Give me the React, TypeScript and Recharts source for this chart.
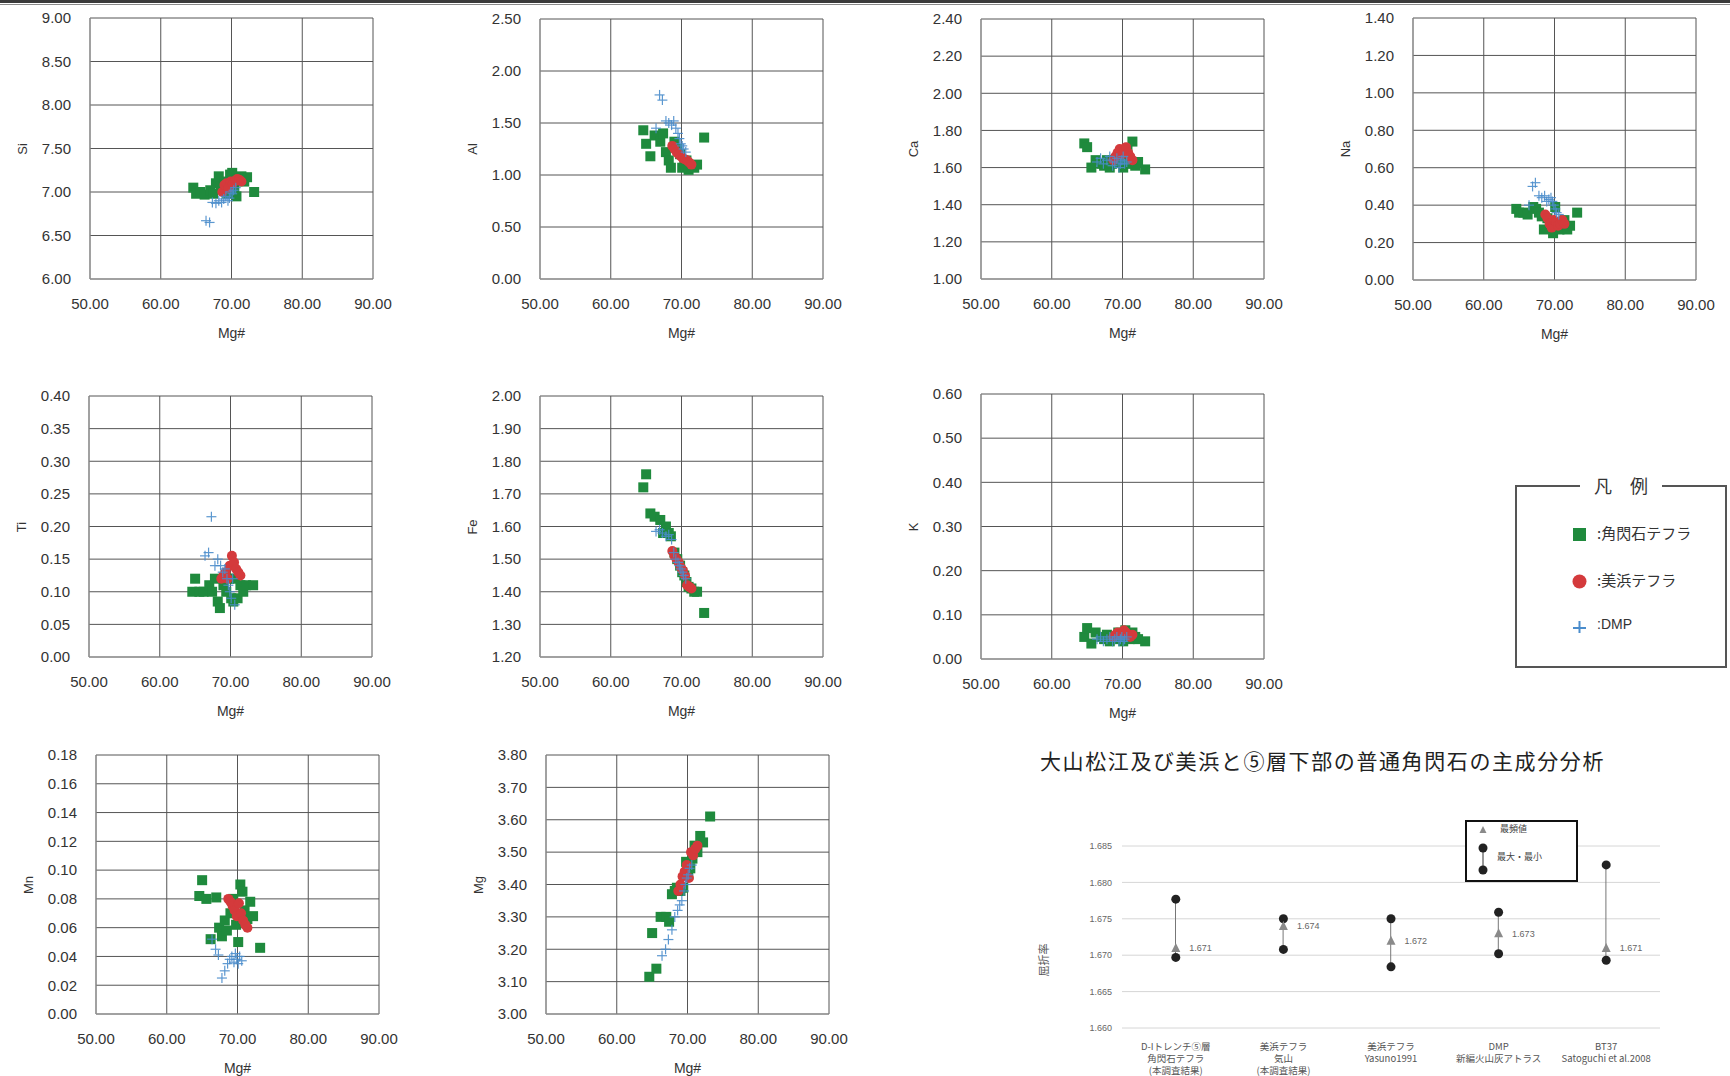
import React from "react";
import {
  Bar,
  CartesianGrid,
  ComposedChart,
  LabelList,
  Scatter,
  ScatterChart,
  XAxis,
  YAxis,
} from "recharts";

// Mg# of each analysed grain, shared by every element panel
const greenMg = [64.6, 65.0, 65.6, 66.2, 67.0, 67.4, 67.8, 68.2, 68.5, 69.0, 69.4, 69.8, 70.1, 70.4, 70.7, 71.0, 71.4, 71.8, 72.2, 73.2];
const redMg = [68.7, 69.0, 69.3, 69.6, 69.9, 70.2, 70.5, 70.8, 71.1, 71.4];
const blueMg = [66.4, 66.9, 67.3, 67.8, 68.2, 68.6, 68.9, 69.2, 69.5, 69.7, 69.9, 70.1, 70.3, 70.6];

// element values (green = 角閃石テフラ, red = 美浜テフラ, blue = DMP)
const siGreen = [7.05, 6.98, 7.0, 6.97, 7.02, 6.98, 7.1, 7.18, 7.05, 7.12, 6.98, 7.2, 7.22, 7.05, 6.95, 7.15, 7.18, 7.12, 7.17, 7.0];
const siRed = [7.0, 7.08, 7.1, 7.05, 7.12, 7.1, 7.13, 7.15, 7.14, 7.12];
const siBlue = [6.67, 6.65, 6.88, 6.87, 6.9, 6.88, 6.92, 6.95, 6.9, 6.93, 7.0, 6.98, 7.02, 7.05];

const alGreen = [1.43, 1.3, 1.18, 1.38, 1.32, 1.4, 1.22, 1.14, 1.07, 1.32, 1.25, 1.2, 1.07, 1.12, 1.14, 1.05, 1.09, 1.07, 1.1, 1.36];
const alRed = [1.28, 1.25, 1.22, 1.2, 1.18, 1.16, 1.15, 1.14, 1.12, 1.1];
const alBlue = [1.45, 1.77, 1.72, 1.52, 1.5, 1.48, 1.52, 1.45, 1.4, 1.35, 1.3, 1.28, 1.25, 1.22];

const caGreen = [1.73, 1.71, 1.6, 1.64, 1.62, 1.61, 1.64, 1.6, 1.62, 1.64, 1.66, 1.63, 1.6, 1.67, 1.7, 1.62, 1.74, 1.61, 1.63, 1.59];
const caRed = [1.64, 1.66, 1.68, 1.7, 1.67, 1.69, 1.71, 1.68, 1.66, 1.64];
const caBlue = [1.63, 1.65, 1.62, 1.64, 1.66, 1.61, 1.63, 1.65, 1.6, 1.62, 1.64, 1.66, 1.62, 1.63];

const naGreen = [0.38, 0.36, 0.36, 0.35, 0.39, 0.38, 0.36, 0.34, 0.27, 0.33, 0.3, 0.25, 0.39, 0.28, 0.27, 0.3, 0.32, 0.27, 0.29, 0.36];
const naRed = [0.35, 0.33, 0.3, 0.28, 0.32, 0.31, 0.29, 0.3, 0.32, 0.3];
const naBlue = [0.4, 0.5, 0.52, 0.45, 0.44, 0.45, 0.42, 0.43, 0.44, 0.42, 0.4, 0.38, 0.36, 0.35];

const tiGreen = [0.1, 0.12, 0.1, 0.1, 0.11, 0.1, 0.12, 0.085, 0.075, 0.11, 0.1, 0.12, 0.09, 0.085, 0.12, 0.09, 0.11, 0.1, 0.11, 0.11];
const tiRed = [0.12, 0.125, 0.13, 0.12, 0.14, 0.155, 0.145, 0.135, 0.13, 0.125];
const tiBlue = [0.155, 0.16, 0.215, 0.14, 0.15, 0.14, 0.13, 0.135, 0.12, 0.11, 0.1, 0.09, 0.12, 0.08];

const feGreen = [1.72, 1.76, 1.64, 1.63, 1.62, 1.58, 1.6, 1.58, 1.57, 1.52, 1.5, 1.48, 1.46, 1.45, 1.43, 1.415, 1.41, 1.4, 1.4, 1.335];
const feRed = [1.525, 1.51, 1.5, 1.49, 1.475, 1.465, 1.45, 1.42, 1.415, 1.41];
const feBlue = [1.585, 1.59, 1.58, 1.57, 1.575, 1.56, 1.52, 1.5, 1.49, 1.48, 1.47, 1.46, 1.45, 1.44];

const kGreen = [0.05, 0.07, 0.035, 0.06, 0.05, 0.045, 0.055, 0.04, 0.05, 0.045, 0.06, 0.05, 0.04, 0.065, 0.055, 0.045, 0.06, 0.05, 0.045, 0.04];
const kRed = [0.05, 0.055, 0.06, 0.055, 0.06, 0.065, 0.06, 0.055, 0.05, 0.055];
const kBlue = [0.045, 0.05, 0.04, 0.045, 0.05, 0.04, 0.045, 0.05, 0.04, 0.045, 0.05, 0.04, 0.045, 0.05];

const mnGreen = [0.082, 0.093, 0.08, 0.052, 0.081, 0.06, 0.054, 0.065, 0.058, 0.07, 0.08, 0.062, 0.05, 0.09, 0.085, 0.072, 0.066, 0.078, 0.068, 0.046];
const mnRed = [0.08, 0.078, 0.075, 0.072, 0.068, 0.077, 0.07, 0.065, 0.062, 0.06];
const mnBlue = [0.052, 0.045, 0.041, 0.025, 0.03, 0.035, 0.038, 0.04, 0.036, 0.042, 0.038, 0.035, 0.04, 0.037];

const mgGreen = [3.115, 3.25, 3.14, 3.3, 3.3, 3.285, 3.37, 3.38, 3.39, 3.38, 3.39, 3.47, 3.43, 3.45, 3.48, 3.52, 3.5, 3.55, 3.53, 3.61];
const mgRed = [3.38, 3.4, 3.425, 3.44, 3.46, 3.42, 3.5, 3.49, 3.51, 3.52];
const mgBlue = [3.18, 3.2, 3.23, 3.26, 3.3, 3.32, 3.337, 3.35, 3.38, 3.4, 3.42, 3.43, 3.45, 3.46];

// tick labels
const mgNumTicks = [50, 60, 70, 80, 90];
const siTicks = [6.0, 6.5, 7.0, 7.5, 8.0, 8.5, 9.0];
const alTicks = [0, 0.5, 1.0, 1.5, 2.0, 2.5];
const caTicks = [1.0, 1.2, 1.4, 1.6, 1.8, 2.0, 2.2, 2.4];
const naTicks = [0, 0.2, 0.4, 0.6, 0.8, 1.0, 1.2, 1.4];
const tiTicks = [0, 0.05, 0.1, 0.15, 0.2, 0.25, 0.3, 0.35, 0.4];
const feTicks = [1.2, 1.3, 1.4, 1.5, 1.6, 1.7, 1.8, 1.9, 2.0];
const kTicks = [0, 0.1, 0.2, 0.3, 0.4, 0.5, 0.6];
const mnTicks = [0, 0.02, 0.04, 0.06, 0.08, 0.1, 0.12, 0.14, 0.16, 0.18];
const mgTicks = [3.0, 3.1, 3.2, 3.3, 3.4, 3.5, 3.6, 3.7, 3.8];

// refractive index chart
const refLabels = [
  ["D-Iトレンチ⑤層", "角閃石テフラ", "(本調査結果)"],
  ["美浜テフラ", "気山", "(本調査結果)"],
  ["美浜テフラ", "Yasuno1991"],
  ["DMP", "新編火山灰アトラス"],
  ["BT37", "Satoguchi et al.2008"],
];
const refMax = [1.6777, 1.675, 1.675, 1.6759, 1.6824];
const refMin = [1.6697, 1.6708, 1.6684, 1.6702, 1.6693];
const refMode = [1.671, 1.674, 1.672, 1.673, 1.671];
const refTicks = [1.66, 1.665, 1.67, 1.675, 1.68, 1.685];

const GREEN = "#1f8a3d";
const RED = "#d43a3c";
const BLUE = "#4b8dcc";
const FONT = "'Liberation Sans', Arial, sans-serif";
const JP = "'Noto Sans CJK JP', sans-serif";

const YW = 70;
const XH = 62;
const PW = 283;
const TOP = 12;
const RIGHT = 20;

const panels = [
  { name: "Si", left: 90, top: 18, h: 261, ticks: siTicks, g: siGreen, r: siRed, b: siBlue },
  { name: "Al", left: 540, top: 19, h: 260, ticks: alTicks, g: alGreen, r: alRed, b: alBlue },
  { name: "Ca", left: 981, top: 19, h: 260, ticks: caTicks, g: caGreen, r: caRed, b: caBlue },
  { name: "Na", left: 1413, top: 18, h: 262, ticks: naTicks, g: naGreen, r: naRed, b: naBlue },
  { name: "Ti", left: 89, top: 396, h: 261, ticks: tiTicks, g: tiGreen, r: tiRed, b: tiBlue },
  { name: "Fe", left: 540, top: 396, h: 261, ticks: feTicks, g: feGreen, r: feRed, b: feBlue },
  { name: "K", left: 981, top: 394, h: 265, ticks: kTicks, g: kGreen, r: kRed, b: kBlue },
  { name: "Mn", left: 96, top: 755, h: 259, ticks: mnTicks, g: mnGreen, r: mnRed, b: mnBlue },
  { name: "Mg", left: 546, top: 755, h: 259, ticks: mgTicks, g: mgGreen, r: mgRed, b: mgBlue },
];

const toPoints = (xs: number[], ys: number[]) => xs.map((x, i) => ({ x, y: ys[i] }));

const Square = (props: any) => (
  <rect x={props.cx - 5} y={props.cy - 5} width={10} height={10} fill={GREEN} />
);
const Circle = (props: any) => <circle cx={props.cx} cy={props.cy} r={5} fill={RED} />;
const Plus = (props: any) => (
  <g stroke={BLUE} strokeWidth={1.2} opacity={0.9}>
    <line x1={props.cx - 5} y1={props.cy} x2={props.cx + 5} y2={props.cy} />
    <line x1={props.cx} y1={props.cy - 5} x2={props.cx} y2={props.cy + 5} />
  </g>
);

const Panel = ({ p }: { p: (typeof panels)[number] }) => {
  const lo = p.ticks[0];
  const hi = p.ticks[p.ticks.length - 1];
  return (
    <>
      <div style={{ position: "absolute", left: p.left - YW, top: p.top - TOP }}>
        <ScatterChart
          width={YW + PW + RIGHT}
          height={TOP + p.h + XH}
          margin={{ top: TOP, right: RIGHT, bottom: 0, left: 0 }}
        >
          <CartesianGrid stroke="#555" strokeWidth={1} />
          <XAxis
            type="number"
            dataKey="x"
            domain={[50, 90]}
            ticks={mgNumTicks}
            tickFormatter={(v: number) => v.toFixed(2)}
            tickLine={false}
            tickMargin={13}
            axisLine={{ stroke: "#999" }}
            tick={{ fontSize: 15, fill: "#333" }}
            height={XH}
            label={{ value: "Mg#", position: "insideBottom", offset: 3, fontSize: 14, fill: "#333" }}
          />
          <YAxis
            type="number"
            dataKey="y"
            domain={[lo, hi]}
            ticks={p.ticks}
            tickFormatter={(v: number) => v.toFixed(2)}
            tickLine={false}
            tickMargin={13}
            axisLine={{ stroke: "#999" }}
            tick={{ fontSize: 15, fill: "#333" }}
            width={YW}
          />
          <Scatter data={toPoints(greenMg, p.g)} shape={Square} isAnimationActive={false} />
          <Scatter data={toPoints(redMg, p.r)} shape={Circle} isAnimationActive={false} />
          <Scatter data={toPoints(blueMg, p.b)} shape={Plus} isAnimationActive={false} />
        </ScatterChart>
      </div>
      <div
        style={{
          position: "absolute",
          left: p.left - 67 - 30,
          top: p.top + p.h / 2 - 9,
          width: 60,
          height: 18,
          lineHeight: "18px",
          textAlign: "center",
          fontSize: 13,
          color: "#333",
          transform: "rotate(-90deg)",
        }}
      >
        {p.name}
      </div>
    </>
  );
};

const Dot = (props: any) => <circle cx={props.cx} cy={props.cy} r={4.5} fill="#222" />;
const Tri = (props: any) => (
  <polygon
    points={`${props.cx},${props.cy - 5} ${props.cx - 4.5},${props.cy + 4} ${props.cx + 4.5},${props.cy + 4}`}
    fill="#8a8a8a"
  />
);

const RefTick = (props: any) => {
  const lines = refLabels[props.payload.index] || [];
  return (
    <g>
      {lines.map((l, i) => (
        <text
          key={i}
          x={props.x}
          y={props.y + 14 + i * 12}
          textAnchor="middle"
          fontSize={9.5}
          fill="#555"
          fontFamily={JP}
        >
          {l}
        </text>
      ))}
    </g>
  );
};

const refData = refLabels.map((lines, i) => ({
  name: lines[0] + i,
  range: [refMin[i], refMax[i]],
  max: refMax[i],
  min: refMin[i],
  mode: refMode[i],
}));

const RefChart = () => (
  <div style={{ position: "absolute", left: 1082, top: 836 }}>
    <ComposedChart width={588} height={240} data={refData} margin={{ top: 10, right: 10, bottom: 0, left: 0 }}>
      <CartesianGrid vertical={false} stroke="#d6d6d6" />
      <XAxis dataKey="name" type="category" height={48} axisLine={false} tickLine={false} interval={0} tick={<RefTick />} />
      <YAxis
        type="number"
        domain={[1.66, 1.685]}
        ticks={refTicks}
        width={40}
        axisLine={false}
        tickLine={false}
        tickMargin={4}
        tickFormatter={(v: number) => v.toFixed(3)}
        tick={{ fontSize: 9, fill: "#666" }}
      />
      <Bar dataKey="range" barSize={1} fill="#777" isAnimationActive={false} />
      <Scatter dataKey="max" shape={Dot} isAnimationActive={false} />
      <Scatter dataKey="min" shape={Dot} isAnimationActive={false} />
      <Scatter dataKey="mode" shape={Tri} isAnimationActive={false}>
        <LabelList
          dataKey="mode"
          position="right"
          offset={9}
          formatter={(v: any) => Number(v).toFixed(3)}
          style={{ fontSize: 9, fill: "#666" }}
        />
      </Scatter>
    </ComposedChart>
  </div>
);

const legendItem = { position: "absolute" as const, left: 80, fontSize: 15, color: "#333", fontFamily: JP };

export default function App() {
  return (
    <div
      style={{
        position: "absolute",
        left: 0,
        top: 0,
        width: 1730,
        height: 1076,
        overflow: "hidden",
        background: "#fff",
        fontFamily: FONT,
      }}
    >
      <div style={{ position: "absolute", left: 0, top: 0, width: 1730, height: 3, background: "#3a3a3a" }} />
      <div style={{ position: "absolute", left: 0, top: 4, width: 1730, height: 1, background: "#8a8a8a" }} />

      {panels.map((p) => (
        <Panel key={p.name} p={p} />
      ))}

      {/* 凡例 */}
      <div
        style={{
          position: "absolute",
          left: 1515,
          top: 485,
          width: 212,
          height: 183,
          border: "2px solid #555",
          boxSizing: "border-box",
        }}
      >
        <div style={{ position: "absolute", top: -15, left: 0, width: "100%", textAlign: "center" }}>
          <span style={{ background: "#fff", padding: "0 14px", fontSize: 18, fontFamily: JP, color: "#333" }}>凡　例</span>
        </div>
        <svg style={{ position: "absolute", left: 50, top: 36 }} width={24} height={110}>
          <rect x={6} y={5} width={13} height={13} fill={GREEN} />
          <circle cx={12.5} cy={58.5} r={7} fill={RED} />
          <g stroke={BLUE} strokeWidth={2}>
            <line x1={6} y1={105} x2={19} y2={105} />
            <line x1={12.5} y1={98} x2={12.5} y2={112} />
          </g>
        </svg>
        <div style={{ ...legendItem, top: 35 }}>:角閃石テフラ</div>
        <div style={{ ...legendItem, top: 82 }}>:美浜テフラ</div>
        <div style={{ ...legendItem, top: 129, fontFamily: FONT, fontSize: 14 }}>:DMP</div>
      </div>

      {/* title */}
      <div
        style={{
          position: "absolute",
          left: 1040,
          top: 745,
          fontSize: 21,
          letterSpacing: 1.6,
          fontFamily: JP,
          color: "#222",
          whiteSpace: "nowrap",
        }}
      >
        大山松江及び美浜と⑤層下部の普通角閃石の主成分分析
      </div>

      <RefChart />

      <div
        style={{
          position: "absolute",
          left: 1043 - 30,
          top: 960 - 8,
          width: 60,
          height: 16,
          lineHeight: "16px",
          textAlign: "center",
          fontSize: 11,
          color: "#555",
          fontFamily: JP,
          transform: "rotate(-90deg)",
        }}
      >
        屈折率
      </div>

      {/* refractive index legend */}
      <div
        style={{
          position: "absolute",
          left: 1465,
          top: 820,
          width: 113,
          height: 62,
          border: "2px solid #111",
          boxSizing: "border-box",
          background: "#fff",
        }}
      >
        <svg style={{ position: "absolute", left: 8, top: 2 }} width={16} height={56}>
          <polygon points="8,2 4.5,9 11.5,9" fill="#8a8a8a" />
          <line x1={8} y1={24} x2={8} y2={46} stroke="#333" strokeWidth={1} />
          <circle cx={8} cy={24} r={4.5} fill="#222" />
          <circle cx={8} cy={46} r={4.5} fill="#222" />
        </svg>
        <div style={{ position: "absolute", left: 33, top: 0, fontSize: 9, color: "#444", fontFamily: JP }}>最頻値</div>
        <div style={{ position: "absolute", left: 30, top: 28, fontSize: 9, color: "#444", fontFamily: JP }}>最大・最小</div>
      </div>
    </div>
  );
}
